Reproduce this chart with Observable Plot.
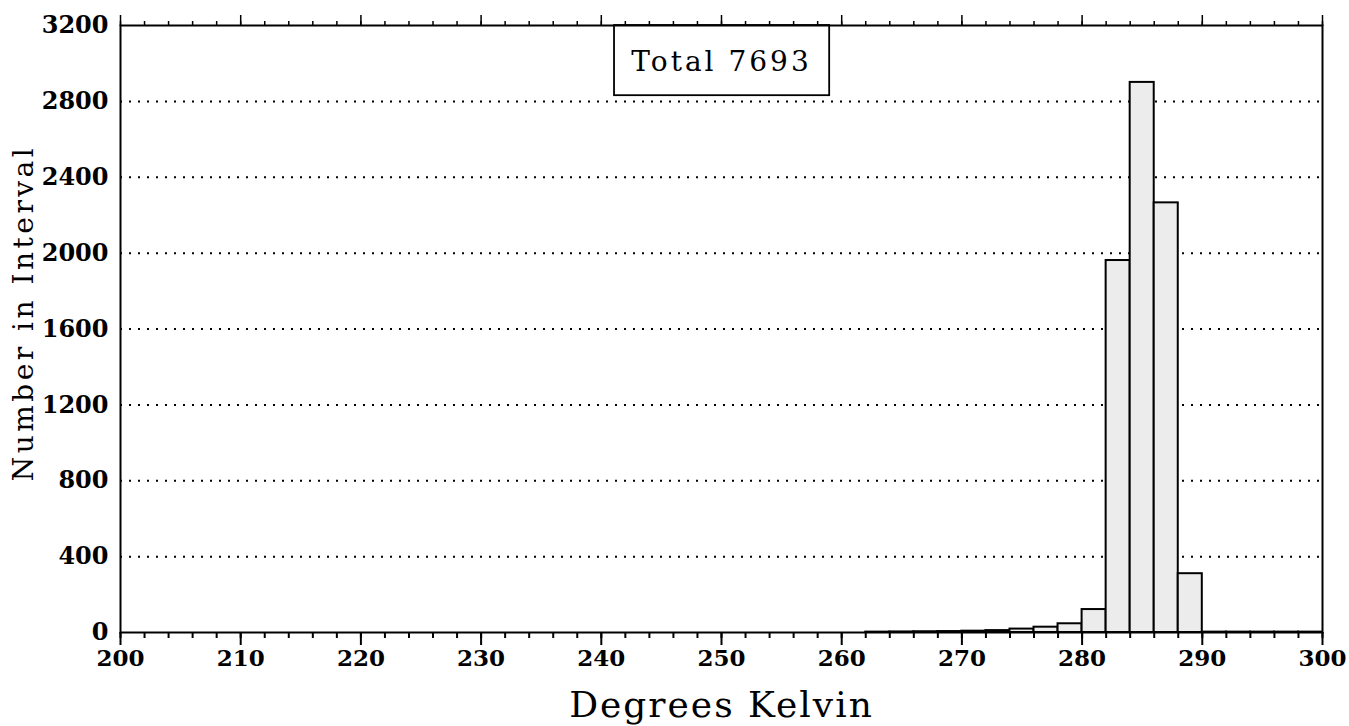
<!DOCTYPE html>
<html>
<head>
<meta charset="utf-8">
<script src="https://cdn.jsdelivr.net/npm/d3@7"></script>
<script src="https://cdn.jsdelivr.net/npm/@observablehq/plot@0.6"></script>
<style>
  html, body { margin: 0; padding: 0; background: #fff; }
  svg { display: block; }
</style>
</head>
<body>
<div id="chart"></div>
<script>
// Histogram bins (lower edge, Kelvin) and counts
const binStart = [262, 264, 266, 268, 270, 272, 274, 276, 278, 280, 282, 284, 286, 288, 290, 292, 294, 296, 298];
const counts   = [2,   3,   4,   5,   7,   10,  18,  28,  46,  121, 1961, 2900, 2265, 310, 2, 2, 2, 2, 2];
const binWidth = 2;
const yTicks = [0, 400, 800, 1200, 1600, 2000, 2400, 2800, 3200];
const gridLines = [400, 800, 1200, 1600, 2000, 2400, 2800];
const xMajor = [200, 210, 220, 230, 240, 250, 260, 270, 280, 290, 300];
const xMinor = d3.range(200, 301, 2);
const noteText = "Total 7693";
const xTitle = "Degrees Kelvin";
const yTitle = "Number in Interval";
const noteBox = [{x1: 241.1, x2: 259.0, y1: 2830, y2: 3200, xm: 250, ym: 3010}];

const bins = binStart.map((b, i) => ({x1: b, x2: b + binWidth, count: counts[i]}));

const font = "'DejaVu Serif', 'Liberation Serif', serif";

const chart = Plot.plot({
  width: 1349,
  height: 726,
  marginLeft: 120,
  marginRight: 27,
  marginTop: 25,
  marginBottom: 94,
  style: {fontFamily: font, fontSize: "22px", color: "#000", background: "#fff"},
  x: {domain: [200, 300]},
  y: {domain: [0, 3200]},
  marks: [
    Plot.ruleY(gridLines, {stroke: "#000", strokeWidth: 2, strokeDasharray: "2,7"}),
    Plot.rect(bins, {x1: "x1", x2: "x2", y1: 0, y2: "count", fill: "#ececec", stroke: "#000", strokeWidth: 2}),
    Plot.rect(noteBox, {x1: "x1", x2: "x2", y1: "y1", y2: "y2", fill: "#fff", stroke: "#000", strokeWidth: 1.8}),
    Plot.text(noteBox, {x: "xm", y: "ym", text: () => noteText, fontSize: 28, fontFamily: font, fill: "#000"}),
    Plot.frame({stroke: "#000", strokeWidth: 2}),
    // bottom axis: minor + major ticks
    Plot.axisX(xMinor, {anchor: "bottom", tickSize: 6, text: null, strokeWidth: 2, label: null}),
    Plot.axisX(xMajor, {anchor: "bottom", tickSize: 13, tickPadding: 4, strokeWidth: 2, fontSize: 23, fontWeight: "bold", tickFormat: d => String(d), label: null}),
    // top axis ticks
    Plot.axisX(xMinor, {anchor: "top", tickSize: 5, text: null, strokeWidth: 1.5, label: null}),
    Plot.axisX(xMajor, {anchor: "top", tickSize: 11, text: null, strokeWidth: 1.5, label: null}),
    Plot.axisY(yTicks, {anchor: "left", tickSize: 0, tickPadding: 12, fontSize: 24, fontWeight: "bold", tickFormat: d => String(d), label: null}),
    Plot.text([xTitle], {frameAnchor: "bottom", dy: 84, text: d => d, fontSize: 36, fontFamily: font, fill: "#000", lineAnchor: "bottom"}),
    Plot.text([yTitle], {frameAnchor: "left", textAnchor: "middle", dx: -96, dy: -16, rotate: -90, text: d => d, fontSize: 28, fontFamily: font, fill: "#000"})
  ]
});
// letter spacing for the wide typewriter-like lettering of the original
const spacing = {[noteText]: "3px", [xTitle]: "2px", [yTitle]: "3.5px"};
d3.select(chart).selectAll("text").each(function() {
  const t = this.textContent;
  if (spacing[t]) this.setAttribute("letter-spacing", spacing[t]);
});
document.getElementById("chart").appendChild(chart);
</script>
</body>
</html>
